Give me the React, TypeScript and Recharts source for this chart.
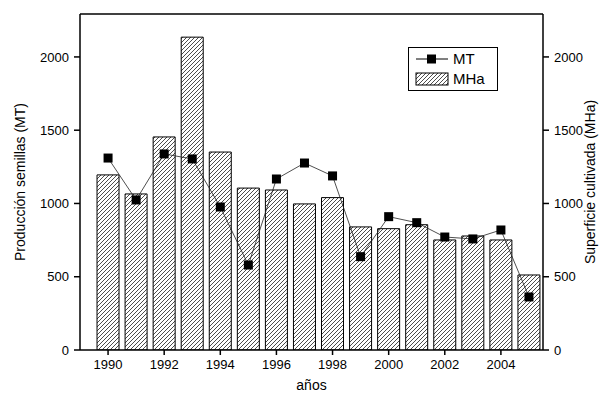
import {
  ComposedChart,
  Bar,
  Line,
  XAxis,
  YAxis,
  ReferenceLine,
  Label,
} from 'recharts';

const years = [
  1990, 1991, 1992, 1993, 1994, 1995, 1996, 1997,
  1998, 1999, 2000, 2001, 2002, 2003, 2004, 2005,
];
// Superficie cultivada (MHa)
const superficie = [
  1195, 1065, 1454, 2135, 1351, 1105, 1092, 997,
  1040, 840, 828, 855, 751, 778, 751, 512,
];
// Producción de semillas (MT)
const produccion = [
  1310, 1024, 1338, 1304, 976, 580, 1167, 1276,
  1188, 637, 910, 869, 771, 758, 819, 362,
];
const yearTicks = [1990, 1992, 1994, 1996, 1998, 2000, 2002, 2004];
const valueTicks = [0, 500, 1000, 1500, 2000];

const Y_MAX = 2293;
const FONT = '"Liberation Sans", Arial, Helvetica, sans-serif';

const data = years.map((year, i) => ({
  year,
  mha: superficie[i],
  mt: produccion[i],
}));

const tickStyle = { fontSize: 13, fill: '#000', fontFamily: FONT };
const titleStyle = { fontSize: 14, fill: '#000', fontFamily: FONT, textAnchor: 'middle' as const };

function HatchDefs() {
  return (
    <pattern id="hatch" patternUnits="userSpaceOnUse" width={4} height={4}>
      <path d="M-1,1 l2,-2 M0,4 l4,-4 M3,5 l2,-2" stroke="#000" strokeWidth={0.7} />
    </pattern>
  );
}

function SquareDot(props: { cx?: number; cy?: number; index?: number }) {
  const { cx, cy, index } = props;
  if (cx == null || cy == null) return null;
  return <rect key={index} x={cx - 4.5} y={cy - 4.5} width={9} height={9} fill="#000" />;
}

function LegendBox() {
  return (
    <div
      style={{
        position: 'absolute',
        left: 408,
        top: 47,
        width: 82,
        padding: '1px 0 1px 6px',
        border: '1px solid #000',
        background: '#fff',
        fontFamily: FONT,
        fontSize: 15,
        lineHeight: '20px',
        color: '#000',
      }}
    >
      <div style={{ display: 'flex', alignItems: 'center' }}>
        <svg width={34} height={12} style={{ marginRight: 4 }}>
          <line x1={1} y1={6} x2={33} y2={6} stroke="#000" strokeWidth={1} />
          <rect x={12} y={1.5} width={9} height={9} fill="#000" />
        </svg>
        MT
      </div>
      <div style={{ display: 'flex', alignItems: 'center' }}>
        <svg width={34} height={14} style={{ marginRight: 4 }}>
          <defs>
            <HatchDefs />
          </defs>
          <rect x={1} y={1} width={32} height={12} fill="url(#hatch)" stroke="#000" strokeWidth={1} />
        </svg>
        MHa
      </div>
    </div>
  );
}

export default function App() {
  return (
    <div style={{ position: 'relative', width: 609, height: 399, margin: -8, background: '#fff' }}>
      <ComposedChart
        width={609}
        height={399}
        data={data}
        margin={{ top: 14, right: 0, bottom: 0, left: 0 }}
      >
        <defs>
          <HatchDefs />
        </defs>
        <XAxis
          dataKey="year"
          type="number"
          domain={[1989, 2005.5]}
          ticks={yearTicks}
          tick={tickStyle}
          tickSize={5}
          tickMargin={5}
          height={49}
          axisLine={{ stroke: '#000', strokeWidth: 1.5 }}
          tickLine={{ stroke: '#000', strokeWidth: 1.5 }}
          allowDataOverflow
        >
          <Label value="años" position="center" dy={11} style={titleStyle} />
        </XAxis>
        <YAxis
          yAxisId="left"
          domain={[0, Y_MAX]}
          ticks={valueTicks}
          tick={tickStyle}
          tickSize={6}
          tickMargin={5}
          width={80}
          axisLine={{ stroke: '#000', strokeWidth: 1.5 }}
          tickLine={{ stroke: '#000', strokeWidth: 1.5 }}
          allowDataOverflow
        >
          <Label
            value="Producción semillas (MT)"
            angle={-90}
            position="center"
            dx={-20}
            style={titleStyle}
          />
        </YAxis>
        <YAxis
          yAxisId="right"
          orientation="right"
          domain={[0, Y_MAX]}
          ticks={valueTicks}
          tick={tickStyle}
          tickSize={6}
          tickMargin={5}
          width={66}
          axisLine={{ stroke: '#000', strokeWidth: 1.5 }}
          tickLine={{ stroke: '#000', strokeWidth: 1.5 }}
          allowDataOverflow
        >
          <Label
            value="Superficie cultivada (MHa)"
            angle={-90}
            position="center"
            dx={14}
            style={titleStyle}
          />
        </YAxis>
        <ReferenceLine yAxisId="left" y={Y_MAX} stroke="#000" strokeWidth={1.5} />
        <Bar
          yAxisId="right"
          dataKey="mha"
          barSize={22}
          fill="url(#hatch)"
          stroke="#000"
          strokeWidth={1}
          isAnimationActive={false}
        />
        <Line
          yAxisId="left"
          dataKey="mt"
          stroke="#222"
          strokeWidth={0.8}
          dot={<SquareDot />}
          activeDot={false}
          isAnimationActive={false}
        />
      </ComposedChart>
      <LegendBox />
    </div>
  );
}
